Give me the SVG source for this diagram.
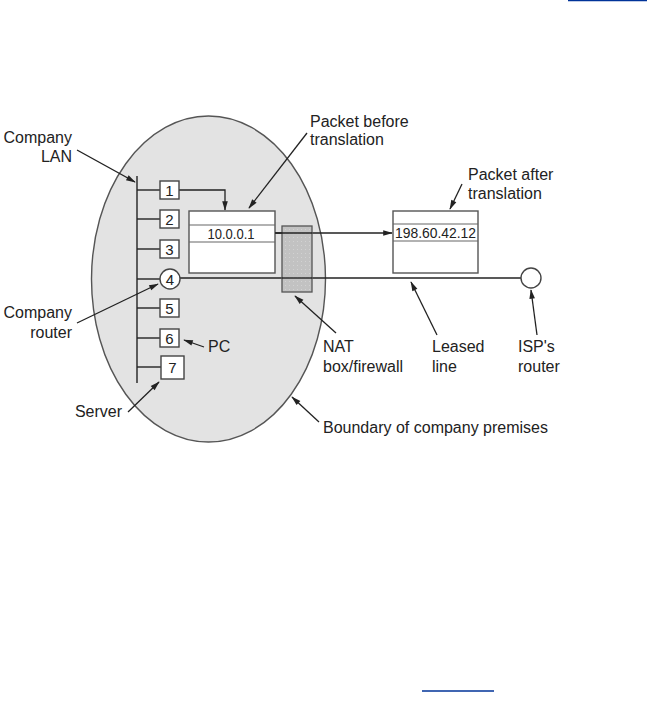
<svg xmlns="http://www.w3.org/2000/svg" width="647" height="721" viewBox="0 0 647 721">
<defs>
<style>
.t{font-family:"Liberation Sans",Arial,sans-serif;font-size:16px;fill:#222}
.n{font-family:"Liberation Sans",Arial,sans-serif;font-size:15px;fill:#222;text-anchor:middle}
.a{font-family:"Liberation Sans",Arial,sans-serif;font-size:14px;fill:#222;text-anchor:middle}
.ln{stroke:#222;stroke-width:1.4;fill:none}
.ar{stroke:#222;stroke-width:1.3;fill:none;marker-end:url(#ah)}
.box{fill:#fff;stroke:#444;stroke-width:1.4}
.pk{fill:#fff;stroke:#555;stroke-width:1.4}
.row{stroke:#666;stroke-width:1.2}
</style>
<marker id="ah" viewBox="0 0 12 10" refX="11" refY="5" markerWidth="11" markerHeight="8" markerUnits="userSpaceOnUse" orient="auto">
<path d="M0,1.5 L12,5 L0,8.5 z" fill="#222"/>
</marker>
<pattern id="dots" width="4" height="4" patternUnits="userSpaceOnUse">
<rect width="4" height="4" fill="#c2c2c2"/>
<rect x="1" y="1" width="1" height="1" fill="#d2d2d2"/>
</pattern>
</defs>
<rect width="647" height="721" fill="#fff"/>
<line x1="568" y1="0.5" x2="647" y2="0.5" stroke="#003399" stroke-width="1.5"/>
<line x1="422" y1="691" x2="494" y2="691" stroke="#003399" stroke-width="1.5"/>

<g id="premises">
<ellipse cx="208.5" cy="279" rx="117" ry="163" fill="#e3e3e3" stroke="#555" stroke-width="1.4"/>
</g>

<g id="connectors">
<line class="ln" x1="137" y1="176" x2="137" y2="383"/>
<line class="ln" x1="137" y1="190" x2="160" y2="190"/>
<line class="ln" x1="137" y1="219" x2="160" y2="219"/>
<line class="ln" x1="137" y1="249" x2="160" y2="249"/>
<line class="ln" x1="137" y1="279" x2="160" y2="279"/>
<line class="ln" x1="137" y1="308" x2="160" y2="308"/>
<line class="ln" x1="137" y1="338" x2="160" y2="338"/>
<line class="ln" x1="137" y1="367" x2="161" y2="367"/>
<polyline class="ar" points="179,190 225,190 225,210"/>
<line class="ln" x1="180" y1="278" x2="521" y2="278"/>
<line class="ar" x1="275" y1="233" x2="392" y2="233"/>
<line class="ar" x1="77" y1="150" x2="135" y2="182"/>
<line class="ar" x1="307" y1="133" x2="249" y2="208"/>
<line class="ar" x1="462" y1="184" x2="450" y2="209"/>
<line class="ar" x1="77" y1="323" x2="158" y2="284"/>
<line class="ar" x1="204" y1="347" x2="184" y2="340"/>
<line class="ar" x1="128" y1="412" x2="159" y2="382"/>
<line class="ar" x1="336" y1="333" x2="295" y2="296"/>
<line class="ar" x1="319" y1="422" x2="292" y2="397"/>
<line class="ar" x1="437" y1="335" x2="411" y2="282"/>
<line class="ar" x1="537" y1="335" x2="531" y2="290"/>
</g>

<g id="host1"><rect class="box" x="160" y="181" width="19" height="18"/><text class="n" x="169.5" y="195.5">1</text></g>
<g id="host2"><rect class="box" x="160" y="210" width="19" height="18"/><text class="n" x="169.5" y="224.5">2</text></g>
<g id="host3"><rect class="box" x="160" y="240" width="19" height="18"/><text class="n" x="169.5" y="254.5">3</text></g>
<g id="router4"><circle cx="170" cy="279" r="10" fill="#fff" stroke="#444" stroke-width="1.4"/><text class="n" x="170" y="284.5">4</text></g>
<g id="host5"><rect class="box" x="160" y="299" width="19" height="18"/><text class="n" x="169.5" y="313.5">5</text></g>
<g id="host6"><rect class="box" x="160" y="329" width="19" height="18"/><text class="n" x="169.5" y="343.5">6</text></g>
<g id="server7"><rect class="box" x="161" y="356" width="23" height="23"/><text class="n" x="172.5" y="373">7</text></g>

<g id="packet-before">
<rect class="pk" x="189" y="211" width="86" height="62"/>
<line class="row" x1="189" y1="225" x2="275" y2="225"/>
<line class="row" x1="189" y1="242" x2="275" y2="242"/>
<text class="a" x="231" y="238.5" textLength="47" lengthAdjust="spacingAndGlyphs">10.0.0.1</text>
</g>

<g id="nat">
<rect x="282" y="226" width="30" height="66" fill="url(#dots)" stroke="#555" stroke-width="1.3"/>
<line x1="275" y1="233" x2="312" y2="233" stroke="#222" stroke-width="1.3"/>
<line x1="282" y1="278" x2="312" y2="278" stroke="#222" stroke-width="1.4"/>
</g>

<g id="packet-after">
<rect class="pk" x="393" y="211" width="85" height="62"/>
<line class="row" x1="393" y1="224" x2="478" y2="224"/>
<line class="row" x1="393" y1="241" x2="478" y2="241"/>
<text class="a" x="435.5" y="237.5" textLength="81" lengthAdjust="spacingAndGlyphs">198.60.42.12</text>
</g>

<g id="isp-router"><circle cx="531" cy="278" r="10" fill="#fff" stroke="#444" stroke-width="1.4"/></g>

<g id="labels">
<text class="t" x="72" y="143" text-anchor="end">Company</text>
<text class="t" x="72" y="162" text-anchor="end">LAN</text>
<text class="t" x="310" y="127">Packet before</text>
<text class="t" x="310" y="145">translation</text>
<text class="t" x="468" y="180">Packet after</text>
<text class="t" x="468" y="199">translation</text>
<text class="t" x="72" y="318" text-anchor="end">Company</text>
<text class="t" x="72" y="338" text-anchor="end">router</text>
<text class="t" x="208" y="352">PC</text>
<text class="t" x="122" y="417" text-anchor="end">Server</text>
<text class="t" x="323" y="352">NAT</text>
<text class="t" x="323" y="372">box/firewall</text>
<text class="t" x="432" y="352">Leased</text>
<text class="t" x="432" y="372">line</text>
<text class="t" x="518" y="352">ISP's</text>
<text class="t" x="518" y="372">router</text>
<text class="t" x="323" y="433">Boundary of company premises</text>
</g>
</svg>
